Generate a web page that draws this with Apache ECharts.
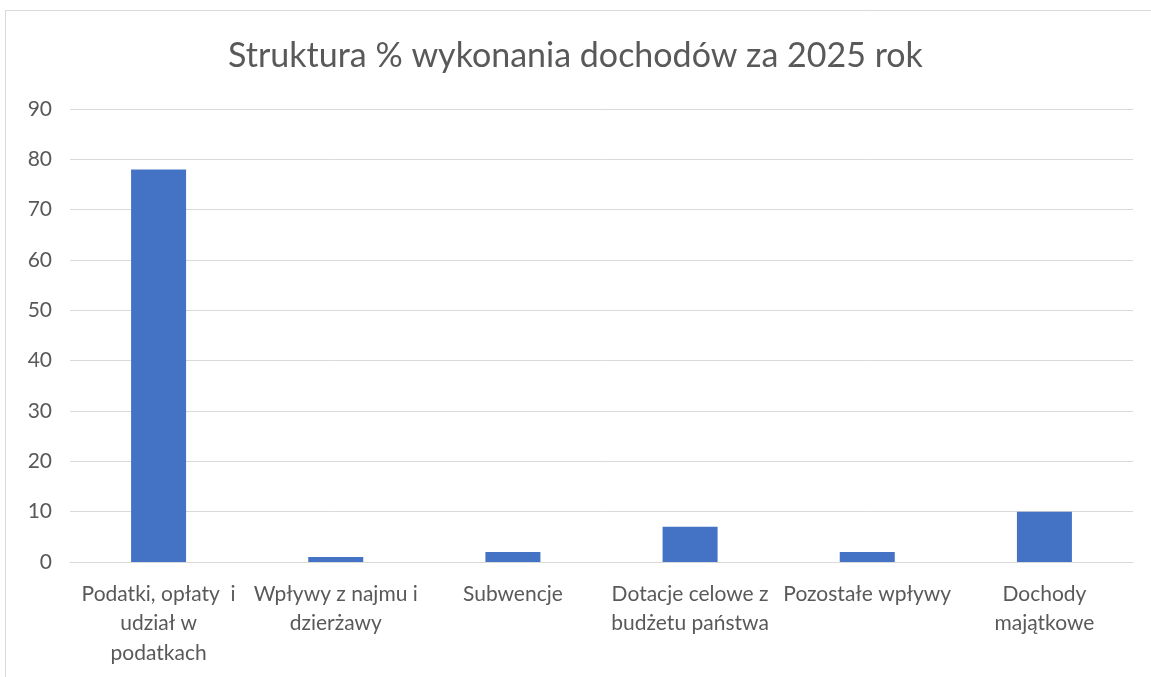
<!DOCTYPE html>
<html>
<head>
<meta charset="utf-8">
<script src="https://cdn.jsdelivr.net/npm/echarts@6/dist/echarts.min.js"></script>
<style>
  html, body { margin: 0; padding: 0; background: #fff; }
  #main { width: 1151px; height: 677px; }
</style>
</head>
<body>
<div id="main"></div>
<script>
var categories = [
    'Podatki, opłaty  i\nudział w\npodatkach',
    'Wpływy z najmu i\ndzierżawy',
    'Subwencje',
    'Dotacje celowe z\nbudżetu państwa',
    'Pozostałe wpływy',
    'Dochody\nmajątkowe'
];
var values = [78, 1, 2, 7, 2, 10];
var titleText = 'Struktura % wykonania dochodów za 2025 rok';

var myChart = echarts.init(document.getElementById('main'));

var font = 'Lato, "Open Sans", sans-serif';

var option = {
    animation: false,
    title: {
        text: titleText,
        left: 'center',
        top: 34,
        textStyle: {
            fontFamily: font,
            fontSize: 34,
            fontWeight: 'normal',
            color: '#595959'
        }
    },
    // ramka wykresu jak w Excelu
    graphic: [{
        type: 'rect',
        shape: { x: 5.5, y: 10.5, width: 1200, height: 720 },
        style: { fill: 'none', stroke: '#d9d9d9', lineWidth: 1 },
        silent: true
    }],
    grid: {
        left: 70,
        right: 18,
        top: 109,
        bottom: 115
    },
    xAxis: {
        type: 'category',
        data: categories,
        axisLine: { lineStyle: { color: '#d9d9d9', width: 1 } },
        axisTick: { show: false },
        axisLabel: {
            interval: 0,
            margin: 17,
            fontFamily: font,
            fontSize: 21,
            lineHeight: 29.5,
            color: '#595959'
        }
    },
    yAxis: {
        type: 'value',
        min: 0,
        max: 90,
        interval: 10,
        axisLine: { show: false },
        axisTick: { show: false },
        axisLabel: {
            margin: 18,
            fontFamily: font,
            fontSize: 21,
            color: '#595959'
        },
        splitLine: { lineStyle: { color: '#d9d9d9', width: 1 } }
    },
    series: [{
        type: 'bar',
        data: values,
        barWidth: 55,
        itemStyle: { color: '#4472c4' }
    }]
};

myChart.setOption(option);
</script>
</body>
</html>
